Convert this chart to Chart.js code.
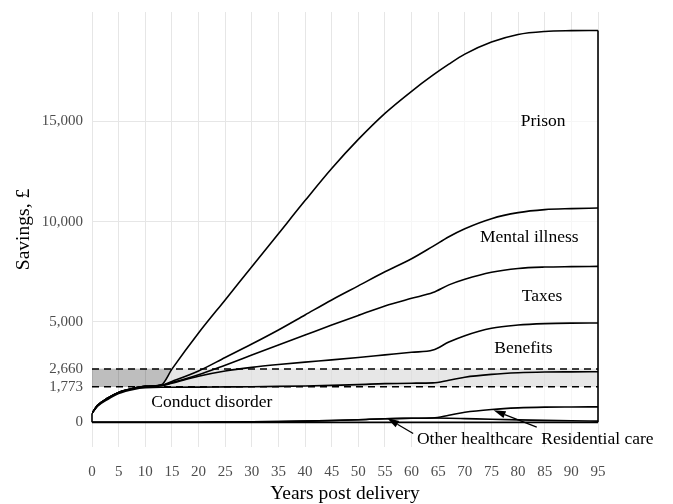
<!DOCTYPE html>
<html>
<head>
<meta charset="utf-8">
<script src="https://cdn.jsdelivr.net/npm/chart.js@4.4.1/dist/chart.umd.min.js"></script>
<style>
  html, body { margin: 0; padding: 0; background: #ffffff; }
  #wrap { width: 673px; height: 504px; }
</style>
</head>
<body>
<div id="wrap"><canvas id="chart" width="673" height="504"></canvas></div>
<script>
// Years after delivery at which cumulative savings were evaluated
const years = [0, 1, 3, 5, 8, 10, 13, 15, 20, 25, 30, 35, 40, 45, 50, 55, 60, 64, 67, 70, 75, 80, 85, 90, 95];

// Cumulative savings (£) contributed by each component, stacked bottom to top
const otherHealthcare = [0, 0, 0, 0, 0, 0, 0, 0, 5, 15, 25, 40, 60, 90, 130, 180, 200, 215, 205, 185, 150, 120, 95, 75, 60];
const residentialCare = [0, 0, 0, 0, 0, 0, 0, 0, 0, 0, 0, 0, 0, 0, 0, 0, 0, 0, 145, 315, 490, 600, 660, 690, 710];
const conductDisorder = [450, 790, 1150, 1430, 1650, 1720, 1750, 1750, 1750, 1750, 1750, 1750, 1750, 1750, 1750, 1750, 1750, 1750, 1750, 1750, 1750, 1750, 1750, 1750, 1750];
const benefits        = [0, 40, 60, 60, 60, 70, 80, 200, 545, 795, 965, 1090, 1190, 1270, 1350, 1430, 1540, 1635, 1900, 2070, 2300, 2380, 2415, 2430, 2430];
const taxes           = [0, 0, 0, 0, 0, 0, 10, 30, 70, 290, 610, 970, 1350, 1740, 2100, 2440, 2690, 2870, 2850, 2810, 2790, 2820, 2820, 2815, 2820];
const mentalIllness   = [0, 0, 0, 0, 0, 0, 10, 60, 190, 380, 550, 750, 1000, 1250, 1470, 1700, 1970, 2300, 2400, 2520, 2670, 2780, 2860, 2890, 2910];
const prison          = [0, 0, 0, 0, 0, 0, 20, 610, 1890, 2870, 3850, 4800, 5700, 6550, 7300, 7900, 8350, 8530, 8600, 8700, 8800, 8880, 8880, 8870, 8850];

// Reference range shown as a shaded band with dashed limits
const bandLow = 1773;
const bandHigh = 2660;

// Axis ticks
const yTicks = [0, bandLow, bandHigh, 5000, 10000, 15000];
const xStep = 5;

// Component labels and their anchor points (data units)
const areaLabels = [
  { text: 'Prison',           x: 84.7, y: 15000 },
  { text: 'Mental illness',   x: 82.1, y: 9200 },
  { text: 'Taxes',            x: 84.5, y: 6300 },
  { text: 'Benefits',         x: 81.0, y: 3700 },
  { text: 'Conduct disorder', x: 22.5, y: 1000 },
  { text: 'Other healthcare', x: 71.9, y: -850 },
  { text: 'Residential care', x: 94.9, y: -850 }
];
// Arrows from the two small-component labels to their lines: [fromX, fromY, toX, toY]
const labelArrows = [
  [60.3, -560, 55.4, 210],
  [83.5, -240, 75.4, 600]
];

const SERIF = "'Liberation Serif', 'Times New Roman', serif";
Chart.defaults.font.family = SERIF;

// Running totals give the top edge of every stacked component
const components = [otherHealthcare, residentialCare, conductDisorder, benefits, taxes, mentalIllness, prison];
const stackedTops = [];
let running = years.map(() => 0);
components.forEach(comp => {
  running = running.map((v, i) => v + comp[i]);
  stackedTops.push(running);
});
const toPoints = arr => years.map((yr, i) => ({ x: yr, y: arr[i] }));

const xFirst = years[0];
const xLast = years[years.length - 1];
const topLine = stackedTops[stackedTops.length - 1];

const curveStyle = {
  borderColor: '#000000',
  borderWidth: 1.6,
  pointRadius: 0,
  fill: false,
  cubicInterpolationMode: 'monotone',
  order: 5
};

const datasets = [];
// grey reference band
datasets.push({
  data: [{ x: xFirst, y: bandHigh }, { x: xLast, y: bandHigh }],
  borderWidth: 0, pointRadius: 0,
  fill: { value: bandLow },
  backgroundColor: 'rgba(0,0,0,0.255)',
  order: 60
});
// translucent white body of the stacked area (lightens the band beneath it)
datasets.push({
  data: toPoints(topLine),
  borderWidth: 0, pointRadius: 0,
  cubicInterpolationMode: 'monotone',
  fill: 'origin',
  backgroundColor: 'rgba(255,255,255,0.63)',
  order: 50
});
// outline of every stacked component
stackedTops.forEach(top => datasets.push(Object.assign({ data: toPoints(top) }, curveStyle)));
// closing edges of the stacked area
datasets.push({ data: [{ x: xFirst, y: 0 }, { x: xLast, y: 0 }], borderColor: '#000', borderWidth: 1.8, pointRadius: 0, fill: false, clip: false, order: 4 });
datasets.push({ data: [{ x: xFirst, y: 0 }, { x: xFirst, y: topLine[0] }], borderColor: '#000', borderWidth: 1.6, pointRadius: 0, fill: false, clip: false, order: 4 });
datasets.push({ data: [{ x: xLast, y: 0 }, { x: xLast, y: topLine[topLine.length - 1] }], borderColor: '#000', borderWidth: 1.6, pointRadius: 0, fill: false, clip: false, order: 4 });
// dashed limits of the band
[bandLow, bandHigh].forEach(v => datasets.push({
  data: [{ x: xFirst, y: v }, { x: xLast, y: v }],
  borderColor: '#000', borderWidth: 1.5, borderDash: [7, 5],
  pointRadius: 0, fill: false, order: 1
}));

// Text labels and arrows drawn on top of the plot
const labelPlugin = {
  id: 'areaLabels',
  afterDatasetsDraw(chart) {
    const { ctx, scales: { x, y } } = chart;
    ctx.save();
    ctx.fillStyle = '#000';
    ctx.strokeStyle = '#000';
    ctx.font = '17.5px ' + SERIF;
    ctx.textAlign = 'center';
    ctx.textBaseline = 'middle';
    areaLabels.forEach(l => ctx.fillText(l.text, x.getPixelForValue(l.x), y.getPixelForValue(l.y)));
    labelArrows.forEach(a => {
      const x0 = x.getPixelForValue(a[0]), y0 = y.getPixelForValue(a[1]);
      const x1 = x.getPixelForValue(a[2]), y1 = y.getPixelForValue(a[3]);
      const ang = Math.atan2(y1 - y0, x1 - x0);
      const len = 12, half = 3.6;
      const bx = x1 - len * Math.cos(ang), by = y1 - len * Math.sin(ang);
      ctx.lineWidth = 1.3;
      ctx.beginPath();
      ctx.moveTo(x0, y0);
      ctx.lineTo(bx, by);
      ctx.stroke();
      ctx.beginPath();
      ctx.moveTo(x1, y1);
      ctx.lineTo(bx + half * Math.sin(ang), by - half * Math.cos(ang));
      ctx.lineTo(bx - half * Math.sin(ang), by + half * Math.cos(ang));
      ctx.closePath();
      ctx.fill();
    });
    ctx.restore();
  }
};

new Chart(document.getElementById('chart'), {
  type: 'line',
  data: { datasets },
  plugins: [labelPlugin],
  options: {
    responsive: false,
    animation: false,
    layout: { padding: { top: 12, right: 75, bottom: 0, left: 0 } },
    plugins: { legend: { display: false }, tooltip: { enabled: false } },
    scales: {
      x: {
        type: 'linear',
        min: xFirst,
        max: xLast,
        afterFit: s => { s.height = 57; s.paddingLeft = 0; s.paddingRight = 0; },
        grid: { color: '#e6e6e6', lineWidth: 1, drawTicks: false },
        border: { display: false },
        ticks: { stepSize: xStep, padding: 16, color: '#4d4d4d', font: { size: 15, family: SERIF }, maxRotation: 0, autoSkip: false },
        title: { display: true, text: 'Years post delivery', color: '#000', font: { size: 19.5, family: SERIF, lineHeight: 1 }, padding: { top: 0, bottom: 0 } }
      },
      y: {
        type: 'linear',
        min: -1230,
        max: 20450,
        afterFit: s => { s.width = 92; s.paddingTop = 0; s.paddingBottom = 0; },
        afterBuildTicks: s => { s.ticks = yTicks.map(v => ({ value: v })); },
        grid: { color: '#e6e6e6', lineWidth: 1, drawTicks: false },
        border: { display: false },
        ticks: { padding: 9, color: '#4d4d4d', font: { size: 15, family: SERIF }, callback: v => v.toLocaleString('en-US') },
        title: { display: true, text: 'Savings, £', color: '#000', font: { size: 19.5, family: SERIF }, padding: { top: 12, bottom: 0 } }
      }
    }
  }
});
</script>
</body>
</html>
